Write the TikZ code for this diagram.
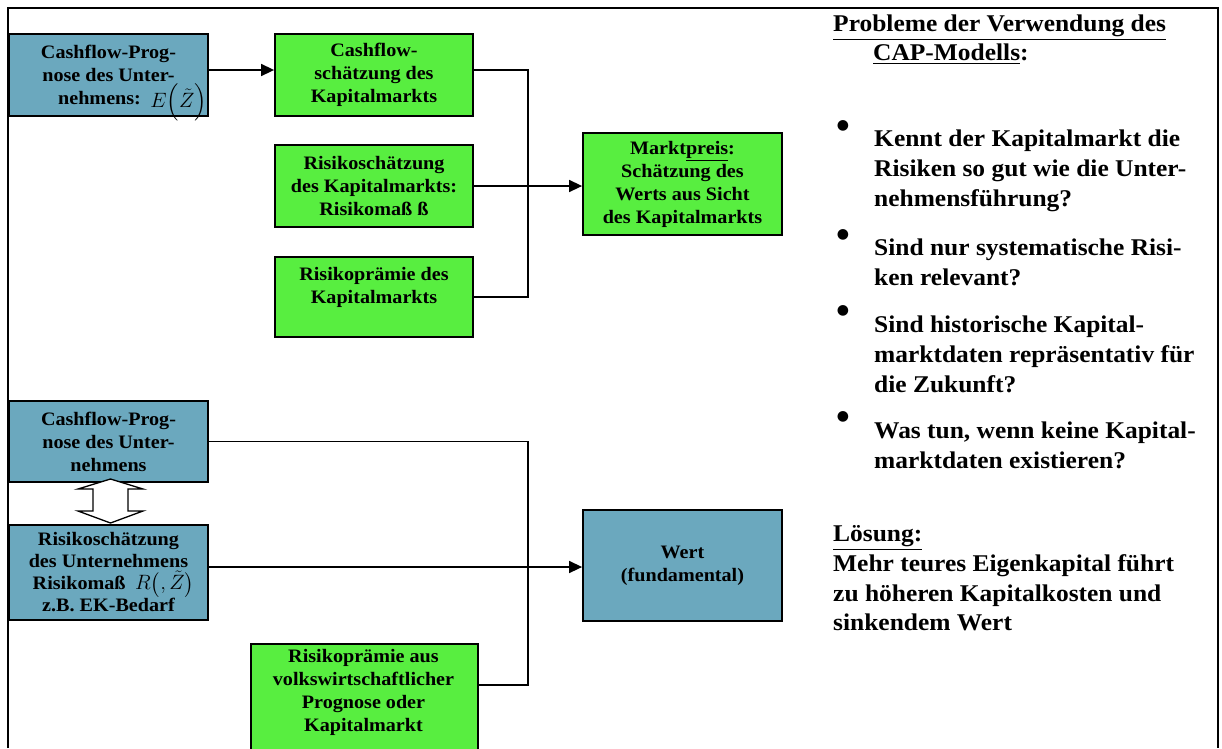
\documentclass[tikz,border=0pt]{standalone}
\usepackage{amsmath}
\usepackage{fontspec}
\setmainfont{Liberation Serif}[FakeStretch=1.06]
\newfontfamily\bulletfont{DejaVu Sans}
\usetikzlibrary{arrows.meta}
\definecolor{boxblue}{RGB}{107,168,190}
\definecolor{boxgreen}{RGB}{88,238,64}
\newcommand{\formfont}{\mdseries\fontsize{21}{23}\selectfont}
\tikzset{
  basebox/.style={draw=black, line width=1.8pt, align=center, inner sep=0pt,
    font=\bfseries\fontsize{19}{23}\selectfont},
  bluebox/.style={basebox, fill=boxblue},
  greenbox/.style={basebox, fill=boxgreen},
  conn/.style={line width=1.5pt},
  arr/.style={conn, -{Triangle[length=13pt,width=12pt]}},
  rtext/.style={font=\bfseries\fontsize{24}{30}\selectfont, anchor=base west, inner sep=0pt},
  bul/.style={font=\bulletfont\fontsize{14}{14}\selectfont, inner sep=0pt, anchor=center},
  frame/.style={line width=1.8pt},
  dblarrow/.style={draw=black, fill=white, line width=1.3pt, line join=miter},
}
\begin{document}
\begin{tikzpicture}[x=1pt,y=-1pt]
\useasboundingbox (0,0) rectangle (1222,748);
% frame
\draw[frame] (8,748) -- (8,8) -- (1218,8) -- (1218,748);

% upper part
\node[bluebox, minimum width=199pt, minimum height=82pt] (A) at (108.5,75)
  {Cashflow-Prog-\\nose des Unter-\\\hspace*{24pt}nehmens:\enspace{\formfont\smash{\raisebox{-3pt}{$E\Bigl(\tilde{Z}\Bigr)$}}}\hspace*{-24pt}};
\node[greenbox, minimum width=198pt, minimum height=82pt] (B) at (374,75)
  {Cashflow-\\schätzung des\\Kapitalmarkts};
\node[greenbox, minimum width=198pt, minimum height=82pt] (C) at (374,186)
  {Risikoschätzung\\des Kapitalmarkts:\\Risikomaß ß};
\node[greenbox, minimum width=198pt, minimum height=80pt] (D) at (374,297)
  {Risikoprämie des\\Kapitalmarkts\\\mbox{}};
\node[greenbox, minimum width=199pt, minimum height=102pt] (E) at (682.5,184)
  {Markt\underline{preis}:\\Schätzung des\\Werts aus Sicht\\des Kapitalmarkts};

\coordinate (jt) at (528,185);
\draw[arr] ([yshift=5pt]A.east) -- ([yshift=5pt]B.west);
\draw[conn] ([yshift=5pt]B.east) -| (jt);
\draw[conn] (D.east) -| (jt);
\draw[arr] (C.east) -- (C.east -| E.west);

% lower part
\node[bluebox, minimum width=199pt, minimum height=81pt] (F) at (108.5,441.5)
  {Cashflow-Prog-\\nose des Unter-\\nehmens};
\node[bluebox, minimum width=199pt, minimum height=95pt,
  font=\bfseries\fontsize{19}{22}\selectfont] (G) at (108.5,572.5)
  {Risikoschätzung\\des Unternehmens\\\hspace*{10pt}Risikomaß\enspace{\formfont\smash{$R\bigl(,\tilde{Z}\bigr)$}}\hspace*{-10pt}\\z.B. EK-Bedarf};
\node[bluebox, minimum width=199pt, minimum height=111pt] (H) at (682.5,565.5)
  {Wert\\(fundamental)};
\node[greenbox, minimum width=227pt, minimum height=122pt, anchor=north west] (I) at (250,643) {};
\node[font=\bfseries\fontsize{19}{23}\selectfont, align=center, inner sep=0pt, anchor=north] (It) at (363.5,649)
  {Risikoprämie aus\\volkswirtschaftlicher\\Prognose oder\\Kapitalmarkt};

\coordinate (jb) at (528,567);
\draw[conn] (F.east) -| (jb);
\draw[conn] ([yshift=20pt]I.east) -| (jb);
\draw[arr] ([yshift=5.5pt]G.east) -- ([yshift=5.5pt]G.east -| H.west);

% double arrow between F and G
\draw[dblarrow] (110.5,479) -- (143,489) -- (128,489) -- (128,511) -- (143,511)
  -- (110.5,523) -- (78,511) -- (93,511) -- (93,489) -- (78,489) -- cycle;

% right text
\node[rtext] (t1) at (833,31) {\underline{Probleme der Verwendung des}};
\node[rtext] (t2) at (873,60) {\underline{CAP-Modells}:};

\node[bul] (b1) at (843,126) {●};
\node[rtext] (p1a) at (874,146) {Kennt der Kapitalmarkt die};
\node[rtext] (p1b) at (874,176) {Risiken so gut wie die Unter-};
\node[rtext] (p1c) at (874,206) {nehmensführung?};

\node[bul] (b2) at (843,235) {●};
\node[rtext] (p2a) at (874,255) {Sind nur systematische Risi-};
\node[rtext] (p2b) at (874,285) {ken relevant?};

\node[bul] (b3) at (843,311) {●};
\node[rtext] (p3a) at (874,332) {Sind historische Kapital-};
\node[rtext] (p3b) at (874,362) {marktdaten repräsentativ für};
\node[rtext] (p3c) at (874,392) {die Zukunft?};

\node[bul] (b4) at (843,417) {●};
\node[rtext] (p4a) at (874,438) {Was tun, wenn keine Kapital-};
\node[rtext] (p4b) at (874,468) {marktdaten existieren?};

\node[rtext] (l0) at (833,541) {\underline{Lösung:}};
\node[rtext] (l1) at (833,571) {Mehr teures Eigenkapital führt};
\node[rtext] (l2) at (833,601) {zu höheren Kapitalkosten und};
\node[rtext] (l3) at (833,630) {sinkendem Wert};
\end{tikzpicture}
\end{document}
